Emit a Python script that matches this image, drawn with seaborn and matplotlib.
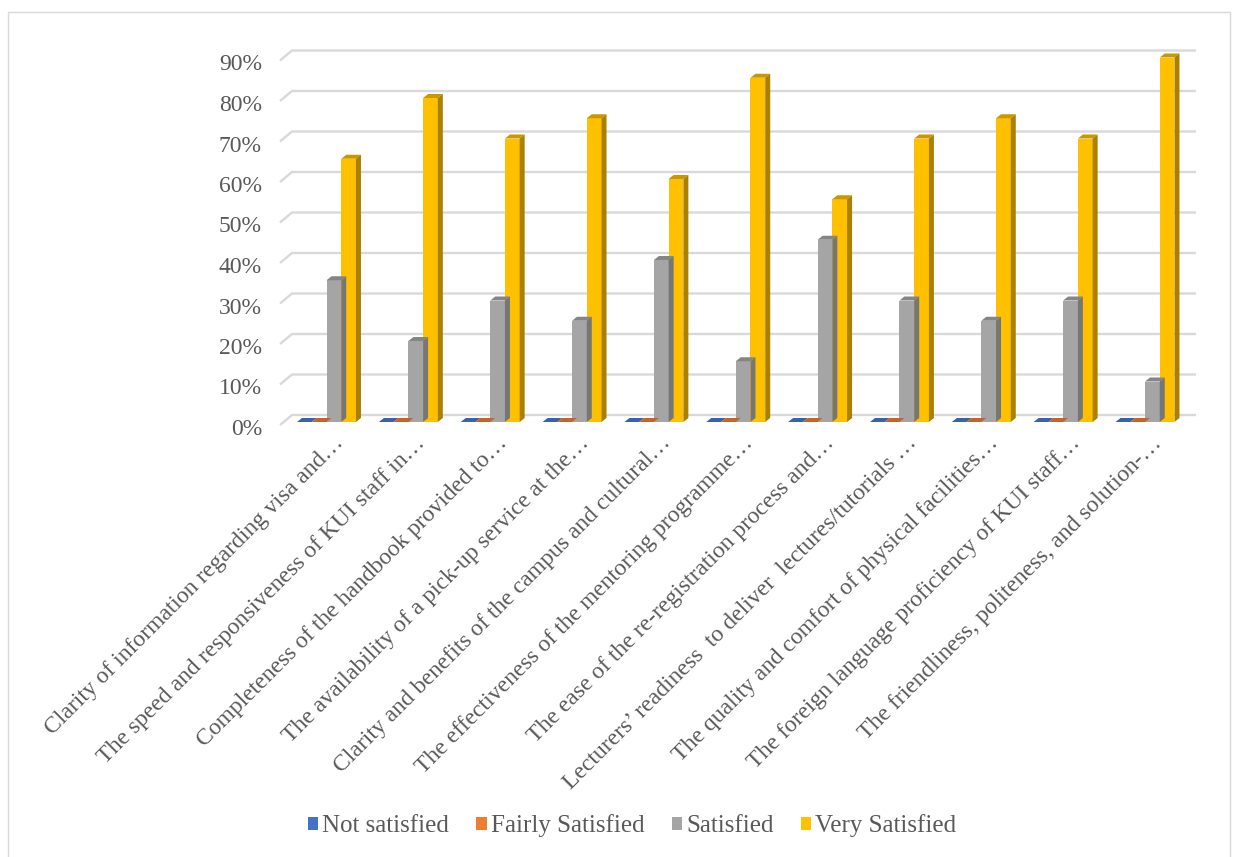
import numpy as np
import pandas as pd
import matplotlib
matplotlib.use("Agg")
import matplotlib.pyplot as plt
import matplotlib.transforms as mtransforms
from matplotlib.patches import Polygon, Patch, Rectangle
import seaborn as sns

categories = [
    "Clarity of information regarding visa and\u2026",
    "The speed and responsiveness of KUI staff in\u2026",
    "Completeness of the handbook provided to\u2026",
    "The availability of a pick-up service at the\u2026",
    "Clarity and benefits of the campus and cultural\u2026",
    "The effectiveness of the mentoring programme\u2026",
    "The ease of the re-registration process and\u2026",
    "Lecturers\u2019 readiness  to deliver  lectures/tutorials \u2026",
    "The quality and comfort of physical facilities\u2026",
    "The foreign language proficiency of KUI staff\u2026",
    "The friendliness, politeness, and solution-\u2026",
]
series_names = ["Not satisfied", "Fairly Satisfied", "Satisfied", "Very Satisfied"]
not_satisfied = [0, 0, 0, 0, 0, 0, 0, 0, 0, 0, 0]
fairly_satisfied = [0, 0, 0, 0, 0, 0, 0, 0, 0, 0, 0]
satisfied = [0.35, 0.20, 0.30, 0.25, 0.40, 0.15, 0.45, 0.30, 0.25, 0.30, 0.10]
very_satisfied = [0.65, 0.80, 0.70, 0.75, 0.60, 0.85, 0.55, 0.70, 0.75, 0.70, 0.90]
y_ticks = [0, 0.1, 0.2, 0.3, 0.4, 0.5, 0.6, 0.7, 0.8, 0.9]
y_tick_labels = ["0%", "10%", "20%", "30%", "40%", "50%", "60%", "70%", "80%", "90%"]

front_colors = ["#4472C4", "#ED7D31", "#A5A5A5", "#FFC000"]
top_colors = ["#3A62AA", "#C4642A", "#858585", "#C99800"]
side_colors = ["#2F5597", "#A9561F", "#767676", "#A98000"]
text_color = "#595959"
grid_color = "#D9D9D9"

rows = []
for name, vals in zip(series_names, [not_satisfied, fairly_satisfied, satisfied, very_satisfied]):
    for c, v in zip(categories, vals):
        rows.append({"category": c, "level": name, "value": v})
df = pd.DataFrame(rows)

sns.set_theme(style="white")
plt.rcParams["font.family"] = ["Liberation Serif", "DejaVu Serif"]

W, H = 1238, 857
fig = plt.figure(figsize=(W / 100, H / 100), dpi=100)

# outer chart border
fig.patches.append(Rectangle((8 / W, -0.01), (1230 - 8) / W, 1 - 12 / H + 0.01,
                             transform=fig.transFigure, fill=False,
                             edgecolor="#D9D9D9", linewidth=1.0))

ax_left, ax_right = 280, 1196
y0_px, y09_px = 422, 57.5
ax = fig.add_axes([ax_left / W, (H - y0_px) / H, (ax_right - ax_left) / W, (y0_px - y09_px) / H])

sns.barplot(data=df, x="category", y="value", hue="level", hue_order=series_names,
            order=categories, palette=front_colors, saturation=1, width=0.72,
            dodge=True, legend=False, ax=ax, zorder=3, linewidth=0)

px_per_unit_x = 81.85
ax.set_xlim(-(326.5 - ax_left) / px_per_unit_x, 10 + (ax_right - 1145) / px_per_unit_x)
ax.set_ylim(0, 0.9)
px_per_unit_y = (y0_px - y09_px) / 0.9

# 3D depth faces derived from seaborn's bars
dx = 5 / px_per_unit_x
dy = 4 / px_per_unit_y
n_cat = len(categories)
for idx, bar in enumerate(ax.patches[: n_cat * len(series_names)]):
    s = idx // n_cat
    x = bar.get_x()
    w = bar.get_width()
    h = bar.get_height()
    top = Polygon([(x, h), (x + w, h), (x + w + dx, h + dy), (x + dx, h + dy)],
                  closed=True, facecolor=top_colors[s], edgecolor="none",
                  zorder=4, clip_on=False)
    ax.add_patch(top)
    if h > 0:
        side = Polygon([(x + w, 0), (x + w + dx, dy), (x + w + dx, h + dy), (x + w, h)],
                       closed=True, facecolor=side_colors[s], edgecolor="none",
                       zorder=4, clip_on=False)
        ax.add_patch(side)

# perspective gridlines (back wall + left diagonal)
ytrans = ax.get_yaxis_transform()
back_off = 7 / px_per_unit_y
front_off = 3 / px_per_unit_y
xb = (292 - ax_left) / (ax_right - ax_left)
for v in y_ticks:
    ax.plot([0, xb, 1], [v - front_off, v + back_off, v + back_off], transform=ytrans,
            color=grid_color, lw=1.7, zorder=1, clip_on=False, solid_capstyle="butt")

for sp in ax.spines.values():
    sp.set_visible(False)
ax.grid(False)
ax.set_xlabel("")
ax.set_ylabel("")

ax.set_yticks(y_ticks)
ax.set_yticklabels(y_tick_labels)
ax.tick_params(axis="y", length=0, pad=13, labelsize=17, labelcolor=text_color)
yoff = mtransforms.ScaledTranslation(0, -5 / 100, fig.dpi_scale_trans)
for lbl in ax.get_yticklabels():
    lbl.set_transform(lbl.get_transform() + yoff)

ax.set_xticks(range(n_cat))
ax.set_xticklabels(categories, rotation=45, ha="right", va="baseline",
                   rotation_mode="anchor")
ax.tick_params(axis="x", length=0, pad=0, labelsize=17, labelcolor=text_color)
xoff = mtransforms.ScaledTranslation(18 / 100, -22 / 100, fig.dpi_scale_trans)
for lbl in ax.get_xticklabels():
    lbl.set_transform(lbl.get_transform() + xoff)

handles = [Patch(facecolor=c, edgecolor="none") for c in front_colors]
leg = fig.legend(handles, series_names, loc="center", bbox_to_anchor=(632 / W, 1 - 826 / H),
                 ncol=4, frameon=False, fontsize=18, handlelength=0.42, handleheight=0.42,
                 handletextpad=0.15, columnspacing=1.1, labelcolor=text_color)

fig.savefig("out.png", dpi=100)
